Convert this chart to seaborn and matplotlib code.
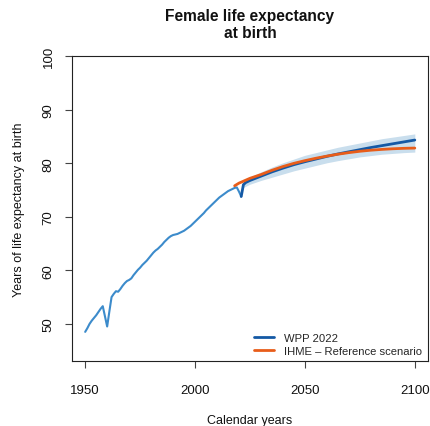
import numpy as np
import pandas as pd
import matplotlib
matplotlib.use("Agg")
import matplotlib.pyplot as plt
import seaborn as sns

# --- WPP 2022 estimates, female life expectancy at birth (1950-2021) ---
est_years = list(range(1950, 2022))
est_values = [
    48.5, 49.2, 50.0, 50.6, 51.1, 51.6, 52.2, 52.8, 53.3, 51.4,
    49.5, 52.3, 55.0, 55.6, 56.1, 56.0, 56.5, 57.1, 57.6, 58.0,
    58.2, 58.5, 59.1, 59.6, 60.1, 60.5, 61.0, 61.4, 61.8, 62.3,
    62.8, 63.3, 63.7, 64.0, 64.4, 64.8, 65.3, 65.7, 66.1, 66.4,
    66.6, 66.7, 66.8, 67.0, 67.2, 67.4, 67.7, 68.0, 68.3, 68.7,
    69.1, 69.5, 69.9, 70.3, 70.7, 71.2, 71.6, 72.0, 72.4, 72.8,
    73.2, 73.6, 73.9, 74.2, 74.5, 74.8, 75.0, 75.2, 75.4, 75.5,
    74.7, 73.8,
]

# --- WPP 2022 projection: median and 95% prediction interval ---
proj_years = [2021, 2022, 2023, 2025, 2030, 2035, 2040, 2045, 2050, 2055,
              2060, 2065, 2070, 2075, 2080, 2085, 2090, 2095, 2100]
proj_median = [73.8, 76.0, 76.4, 76.8, 77.6, 78.4, 79.1, 79.75, 80.3, 80.8,
               81.3, 81.75, 82.15, 82.55, 82.95, 83.3, 83.65, 84.0, 84.35]
pi_years = [2022, 2025, 2030, 2035, 2040, 2045, 2050, 2055, 2060,
            2065, 2070, 2075, 2080, 2085, 2090, 2095, 2100]
pi_lower = [75.5, 76.1, 76.8, 77.4, 78.0, 78.6, 79.1, 79.6, 80.1,
            80.5, 80.85, 81.2, 81.45, 81.7, 81.85, 82.0, 82.1]
pi_upper = [76.5, 77.4, 78.4, 79.3, 80.1, 80.8, 81.5, 82.0, 82.5,
            83.0, 83.4, 83.8, 84.2, 84.6, 84.9, 85.2, 85.5]

# --- IHME reference scenario ---
ihme_years = [2018, 2020, 2025, 2030, 2035, 2040, 2045, 2050, 2055,
              2060, 2065, 2070, 2075, 2080, 2085, 2090, 2095, 2100]
ihme_values = [75.8, 76.3, 77.2, 77.9, 78.7, 79.4, 80.0, 80.5, 80.95,
               81.35, 81.7, 82.0, 82.25, 82.45, 82.6, 82.72, 82.8, 82.85]

x_ticks = [1950, 2000, 2050, 2100]
y_ticks = [50, 60, 70, 80, 90, 100]

sns.set_theme(style="ticks")
plt.rcParams["font.family"] = ["Liberation Sans", "DejaVu Sans"]

W, H = 430, 427
fig = plt.figure(figsize=(W / 100, H / 100), dpi=100)
left, right, top, bottom = 72, 428, 57.3, 362.3
ax = fig.add_axes([left / W, 1 - bottom / H, (right - left) / W, (bottom - top) / H])

est = pd.DataFrame({"year": est_years, "value": est_values})
proj = pd.DataFrame({"year": proj_years, "value": proj_median})
ihme = pd.DataFrame({"year": ihme_years, "value": ihme_values})

c_est = "#3c8bcb"
c_proj = "#1459a5"
c_ihme = "#e85d1a"
c_band = "#c9deed"

ax.fill_between(pi_years, pi_lower, pi_upper, color=c_band, lw=0, zorder=1)
sns.lineplot(data=est, x="year", y="value", ax=ax, color=c_est, lw=1.5, zorder=2)
sns.lineplot(data=proj, x="year", y="value", ax=ax, color=c_proj, lw=2.0,
             zorder=3, label="WPP 2022")
sns.lineplot(data=ihme, x="year", y="value", ax=ax, color=c_ihme, lw=2.0,
             zorder=4, label="IHME \u2013 Reference scenario")

ax.set_xlim(1944, 2106)
ax.set_ylim(43, 100)
ax.set_xticks(x_ticks)
ax.set_yticks(y_ticks)
ax.set_xlabel("")
ax.set_ylabel("")
for sp in ax.spines.values():
    sp.set_visible(True)
    sp.set_color("#222222")
    sp.set_linewidth(0.8)
ax.tick_params(axis="both", direction="out", length=5, width=0.8,
               color="#444444", labelsize=9.5, labelcolor="#111111")
ax.tick_params(axis="x", pad=11)
ax.tick_params(axis="y", pad=7.5)
for lbl in ax.get_yticklabels():
    lbl.set_rotation(90)
    lbl.set_va("center")

leg = ax.legend(loc="lower right", bbox_to_anchor=(422 / W, 1 - 357 / H),
                bbox_transform=fig.transFigure, frameon=False, fontsize=8.1,
                handlelength=1.8, handletextpad=0.9, labelspacing=0.3,
                borderpad=0, borderaxespad=0)
for line in leg.get_lines():
    line.set_linewidth(2.0)

fig.text(250 / W, 1 - 25 / H, "Female life expectancy\nat birth", ha="center",
         va="center", fontsize=11.2, fontweight="bold", color="#111111")
fig.text(250 / W, 1 - 421 / H, "Calendar years", ha="center", va="center",
         fontsize=9, color="#111111")
fig.text(19 / W, 1 - 210 / H, "Years of life expectancy at birth", ha="center",
         va="center", rotation=90, fontsize=9, color="#111111")

fig.savefig("out.png", dpi=100)
